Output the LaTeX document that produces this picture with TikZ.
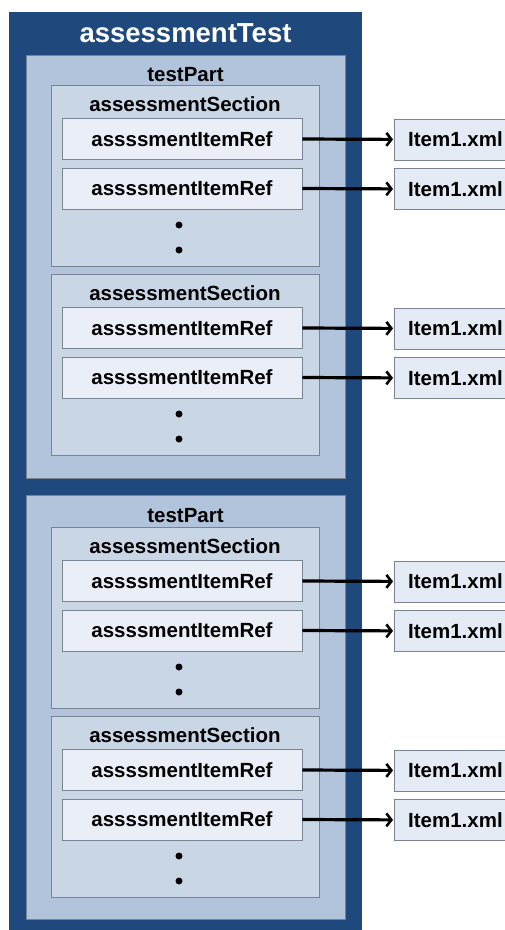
\documentclass[tikz,border=0pt]{standalone}
\usepackage{fontspec}
\setmainfont{Liberation Sans}
\usetikzlibrary{arrows.meta}
\definecolor{outerblue}{HTML}{1F487C}
\definecolor{partfill}{HTML}{B1C4DC}
\definecolor{secfill}{HTML}{C9D6E6}
\definecolor{itemfill}{HTML}{E9EEF7}
\definecolor{xmlfill}{HTML}{E4EBF5}
\definecolor{edgegray}{HTML}{7A8490}
\tikzset{
  outerbox/.style={fill=outerblue, draw=none, anchor=north west, inner sep=0},
  partbox/.style={fill=partfill, draw=edgegray, line width=0.8pt, anchor=north west, inner sep=0},
  secbox/.style={fill=secfill, draw=edgegray, line width=0.8pt, anchor=north west, inner sep=0},
  itembox/.style={fill=itemfill, draw=edgegray, line width=0.8pt, minimum width=240pt, minimum height=41pt, inner sep=0, font=\fontsize{20.5}{24}\selectfont\bfseries},
  xmlbox/.style={fill=xmlfill, draw=edgegray, line width=0.8pt, anchor=north west, minimum width=125pt, minimum height=41pt, inner sep=0},
  lbl/.style={font=\fontsize{20.5}{24}\selectfont\bfseries, anchor=base, inner sep=0},
  titlelbl/.style={font=\fontsize{27.5}{32}\selectfont\bfseries, text=white, anchor=base, inner sep=0},
  linkarrow/.style={line width=3.2pt, shorten >=1pt, -{Straight Barb[length=5pt,width=13pt,line width=2.6pt]}},
  dot/.style={circle, fill=black, inner sep=0, minimum size=7pt}
}
\begin{document}
\begin{tikzpicture}[x=1pt,y=-1pt]
\useasboundingbox (0,0) rectangle (505,930);
\clip (0,0) rectangle (505,930);
\fill[white] (0,0) rectangle (505,930);
\node[outerbox, minimum width=353pt, minimum height=925pt] (outer) at (9,12) {};
\node[titlelbl] (title) at (185.5,42) {assessmentTest};
\node[partbox, minimum width=319pt, minimum height=423pt] (part1) at (26,55) {};
\node[lbl] (part1lbl) at (185.5,81) {testPart};
\node[partbox, minimum width=319pt, minimum height=424pt] (part2) at (26,495) {};
\node[lbl] (part2lbl) at (185.5,522) {testPart};
\foreach \n/\T in {1/85,2/274,3/527,4/716}{
  \node[secbox, minimum width=268pt, minimum height=181pt] (sec\n) at (51,\T) {};
  \node[lbl] (sec\n lbl) at (185,{\T+26}) {assessmentSection};
  \node[itembox] (ref\n a) at (182,{\T+54}) {assssmentItemRef};
  \node[itembox] (ref\n b) at (182,{\T+103.5}) {assssmentItemRef};
  \node[dot] (dot\n a) at (179,{\T+140}) {};
  \node[dot] (dot\n b) at (179,{\T+165}) {};
  \node[xmlbox] (xml\n a) at (394,{\T+33.5}) {};
  \node[lbl, anchor=base west] (xml\n alb) at (408,{\T+61.5}) {Item1.xml};
  \node[xmlbox] (xml\n b) at (394,{\T+83}) {};
  \node[lbl, anchor=base west] (xml\n blb) at (408,{\T+111}) {Item1.xml};
  \draw[linkarrow] (ref\n a.east) -- (xml\n a.west);
  \draw[linkarrow] (ref\n b.east) -- (xml\n b.west);
}
\end{tikzpicture}
\end{document}
